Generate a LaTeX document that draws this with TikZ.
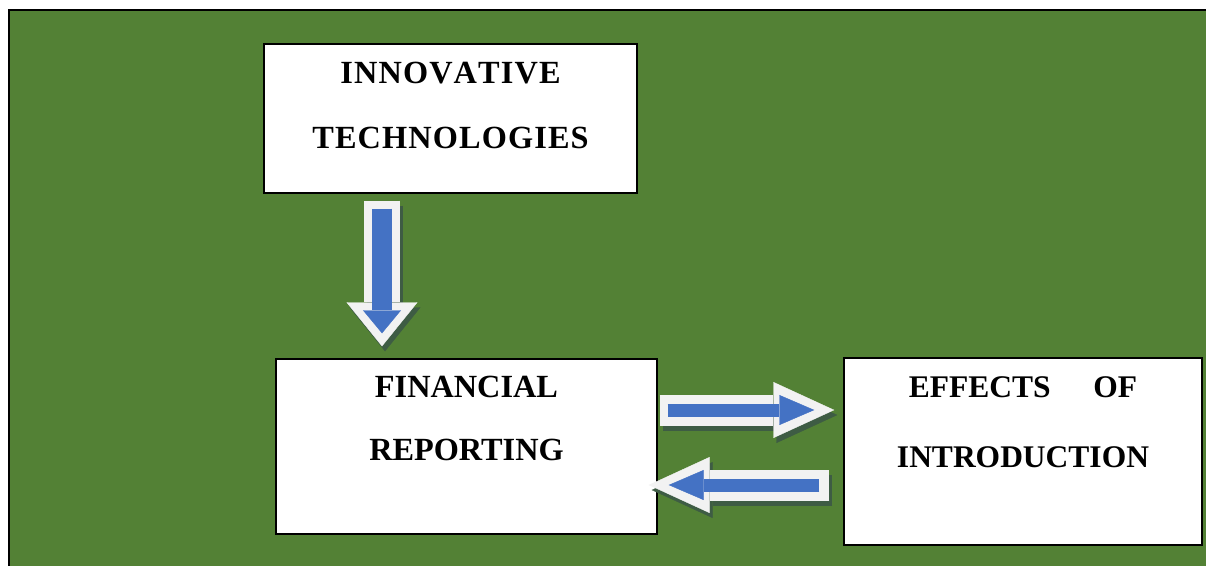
\documentclass[tikz,border=0pt]{standalone}
\usepackage{fontspec}
\setmainfont{Liberation Serif}
\usepackage{tikz}
\usetikzlibrary{arrows.meta,positioning}
\definecolor{PanelGreen}{HTML}{538135}
\definecolor{ArrowBlue}{HTML}{4472C4}
\definecolor{RimWhite}{HTML}{F2F2F2}
\definecolor{ShadeGreen}{HTML}{3E5C44}
\tikzset{
  topicbox/.style={draw=black,line width=1.4pt,fill=white,inner sep=0pt},
  topictext/.style={align=center,inner sep=0pt,font=\bfseries\fontsize{32.3}{65}\selectfont},
  downrim/.style={line width=36pt,draw=RimWhite,-{Triangle[length=44pt,width=71pt,line width=0.4pt]}},
  downcore/.style={line width=20pt,draw=ArrowBlue,-{Triangle[length=23pt,width=38pt,line width=0.4pt]}},
  siderim/.style={line width=31pt,draw=RimWhite,-{Triangle[length=61pt,width=56pt,line width=0.4pt]}},
  sidecore/.style={line width=13pt,draw=ArrowBlue,-{Triangle[length=35pt,width=30pt,line width=0.4pt]}},
  shade/.style={draw=ShadeGreen,transform canvas={shift={(3pt,-5pt)}}}
}
\begin{document}
\begin{tikzpicture}[x=1pt,y=-1pt]
  \useasboundingbox (0,0) rectangle (1206,565);
  \begin{scope}
    \clip (0,0) rectangle (1206,565);
    \draw[line width=2pt,fill=PanelGreen] (8.5,10) rectangle (1220,580);
  \end{scope}

  % boxes
  \node[topicbox,minimum width=373pt,minimum height=149pt] (innov) at (450.5,118.5) {};
  \node[topicbox,minimum width=381pt,minimum height=175pt] (fin) at (466.5,446.5) {};
  \node[topicbox,minimum width=358pt,minimum height=187pt] (eff) at (1023,451.5) {};

  \node[topictext,below=19pt of innov.north] (innovtext)
    {\addfontfeature{LetterSpace=3.5,Kerning=Off}INNOVATIVE\\\addfontfeature{LetterSpace=3.5,Kerning=Off}TECHNOLOGIES};
  \node[topictext,below=18pt of fin.north,font=\bfseries\fontsize{32.3}{63}\selectfont] (fintext) {FINANCIAL\\REPORTING};
  \node[topictext,below=19pt of eff.north,font=\bfseries\fontsize{31.5}{70}\selectfont] (efftext)
    {EFFECTS\hspace{35pt} OF\\INTRODUCTION};

  % block arrows
  \draw[downrim,shade] ([xshift=-68.5pt,yshift=-7pt]innov.south) -- ([xshift=-84.5pt,yshift=12pt]fin.north);
  \draw[downrim] ([xshift=-68.5pt,yshift=-7pt]innov.south) -- ([xshift=-84.5pt,yshift=12pt]fin.north);
  \draw[downcore] ([xshift=-68.5pt,yshift=-15pt]innov.south) -- ([xshift=-84.5pt,yshift=25pt]fin.north);

  \draw[siderim,shade] ([xshift=2pt,yshift=36.5pt]fin.east) -- ([xshift=-9pt,yshift=41.5pt]eff.west);
  \draw[siderim] ([xshift=2pt,yshift=36.5pt]fin.east) -- ([xshift=-9pt,yshift=41.5pt]eff.west);
  \draw[sidecore] ([xshift=10pt,yshift=36.5pt]fin.east) -- ([xshift=-29pt,yshift=41.5pt]eff.west);

  \draw[siderim,shade] ([xshift=-14pt,yshift=-33.5pt]eff.west) -- ([xshift=-9pt,yshift=-38.5pt]fin.east);
  \draw[siderim] ([xshift=-14pt,yshift=-33.5pt]eff.west) -- ([xshift=-9pt,yshift=-38.5pt]fin.east);
  \draw[sidecore] ([xshift=-24pt,yshift=-33.5pt]eff.west) -- ([xshift=11pt,yshift=-38.5pt]fin.east);
\end{tikzpicture}
\end{document}
